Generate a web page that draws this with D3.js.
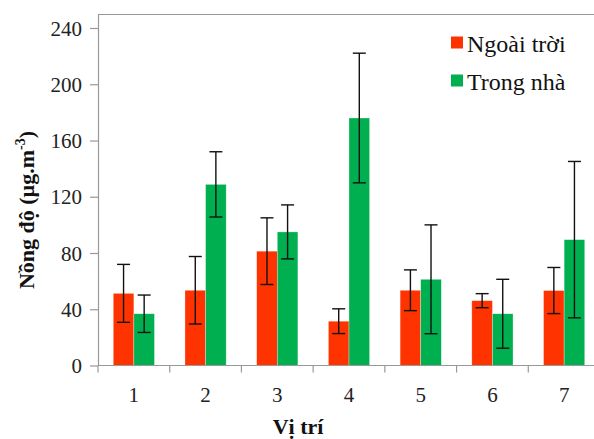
<!DOCTYPE html>
<html>
<head>
<meta charset="utf-8">
<script src="https://cdn.jsdelivr.net/npm/d3@7"></script>
<style>
  body { margin: 0; background: #fff; }
</style>
</head>
<body>
<div id="chart"></div>
<script>
"use strict";

// data *********************************************************
var categories = ["1", "2", "3", "4", "5", "6", "7"];
var seriesNames = ["Ngoài trời", "Trong nhà"];
var outdoor = [51.3, 53.5, 81.3, 31.5, 53.5, 46.1, 53.3];
var outdoorSd = [20.6, 24.0, 23.7, 8.8, 14.5, 5.0, 16.4];
var indoor = [36.8, 128.8, 95.0, 176.0, 61.3, 36.8, 89.5];
var indoorSd = [13.3, 23.2, 19.2, 46.1, 38.7, 24.5, 55.6];
var yTicks = [0, 40, 80, 120, 160, 200, 240];
var colors = ["#FF3300", "#00B050"];

// layout *******************************************************
var width = 594, height = 439;
var plotLeft = 98, plotTop = 14, plotRight = 600, plotBottom = 365.5;
var serif = "Liberation Serif";

var svg = d3.select("#chart").append("svg")
  .attr("width", width)
  .attr("height", height)
  .style("display", "block");

var x = d3.scaleBand().domain(categories).range([plotLeft, plotRight]);
var y = d3.scaleLinear().domain([0, 240]).range([plotBottom, 28]);
var barW = 20.6;

// plot frame
svg.append("line")
  .attr("x1", plotLeft).attr("x2", width).attr("y1", plotTop + 0.5).attr("y2", plotTop + 0.5)
  .attr("stroke", "#999").attr("stroke-width", 1.2);

// bars **********************************************************
var series = [
  { name: seriesNames[0], values: outdoor, sd: outdoorSd, color: colors[0], off: -1 },
  { name: seriesNames[1], values: indoor, sd: indoorSd, color: colors[1], off: 0 }
];

series.forEach(function(s) {
  var g = svg.append("g");
  g.selectAll("rect")
    .data(s.values)
    .enter()
    .append("rect")
    .attr("x", function(d, i) { return x(categories[i]) + x.bandwidth() / 2 + s.off * barW; })
    .attr("y", function(d) { return y(d); })
    .attr("width", barW)
    .attr("height", function(d) { return y(0) - y(d); })
    .attr("fill", s.color)
    .attr("stroke", "#fff")
    .attr("stroke-opacity", 0.5)
    .attr("stroke-width", 0.6);
});

// error bars
series.forEach(function(s) {
  var g = svg.append("g").attr("stroke", "#111").attr("stroke-width", 1.4);
  s.values.forEach(function(v, i) {
    var cx = x(categories[i]) + x.bandwidth() / 2 + s.off * barW + barW / 2;
    var hi = y(v + s.sd[i]), lo = y(v - s.sd[i]);
    g.append("line").attr("x1", cx).attr("x2", cx).attr("y1", hi).attr("y2", lo);
    g.append("line").attr("x1", cx - 6.5).attr("x2", cx + 6.5).attr("y1", hi).attr("y2", hi);
    g.append("line").attr("x1", cx - 6.5).attr("x2", cx + 6.5).attr("y1", lo).attr("y2", lo);
  });
});

// axes **********************************************************
var yAxis = svg.append("g")
  .attr("transform", "translate(" + plotLeft + ",0)")
  .call(d3.axisLeft(y).tickValues(yTicks).tickSize(8).tickPadding(8));
yAxis.select(".domain").attr("d", "M0.5," + plotTop + "V" + plotBottom);

var xAxis = svg.append("g")
  .attr("transform", "translate(0," + plotBottom + ")")
  .call(d3.axisBottom(x).tickSize(0).tickPadding(22));
xAxis.select(".domain").attr("d", "M" + plotLeft + ",0H" + width);

// ticks between categories
xAxis.selectAll(".sep")
  .data(categories)
  .enter()
  .append("line")
  .attr("class", "sep")
  .attr("x1", function(d) { return x(d); })
  .attr("x2", function(d) { return x(d); })
  .attr("y1", 0).attr("y2", 7)
  .attr("stroke", "#999").attr("stroke-width", 1.2);

svg.selectAll(".domain").attr("stroke", "#999").attr("stroke-width", 1.2);
yAxis.selectAll(".tick line").attr("stroke", "#999").attr("stroke-width", 1.2);
svg.selectAll(".tick text")
  .style("font-family", serif)
  .style("font-size", "21px")
  .attr("fill", "#222");
yAxis.selectAll(".tick text").attr("dy", "0.34em");

// titles
var yt = svg.append("text")
  .attr("transform", "translate(34,210) rotate(-90)")
  .attr("text-anchor", "middle")
  .style("font-family", serif)
  .style("font-size", "22px")
  .attr("font-weight", "bold")
  .attr("fill", "#111");
yt.append("tspan").text("Nồng độ (µg.m");
yt.append("tspan").style("font-size", "14px").attr("dy", -9).text("-3");
yt.append("tspan").attr("dy", 9).text(")");

svg.append("text")
  .attr("x", 298).attr("y", 434)
  .attr("text-anchor", "middle")
  .style("font-family", serif)
  .style("font-size", "22px")
  .attr("font-weight", "bold")
  .attr("fill", "#111")
  .text("Vị trí");

// legend ********************************************************
var legend = svg.selectAll(".legend")
  .data(series)
  .enter()
  .append("g")
  .attr("class", "legend")
  .attr("transform", function(d, i) { return "translate(451," + (36.5 + i * 38) + ")"; });

legend.append("rect")
  .attr("width", 12).attr("height", 12)
  .attr("fill", function(d) { return d.color; });

legend.append("text")
  .attr("x", 16).attr("y", 15)
  .style("font-family", serif)
  .style("font-size", "24px")
  .attr("fill", "#111")
  .text(function(d) { return d.name; });
</script>
</body>
</html>
